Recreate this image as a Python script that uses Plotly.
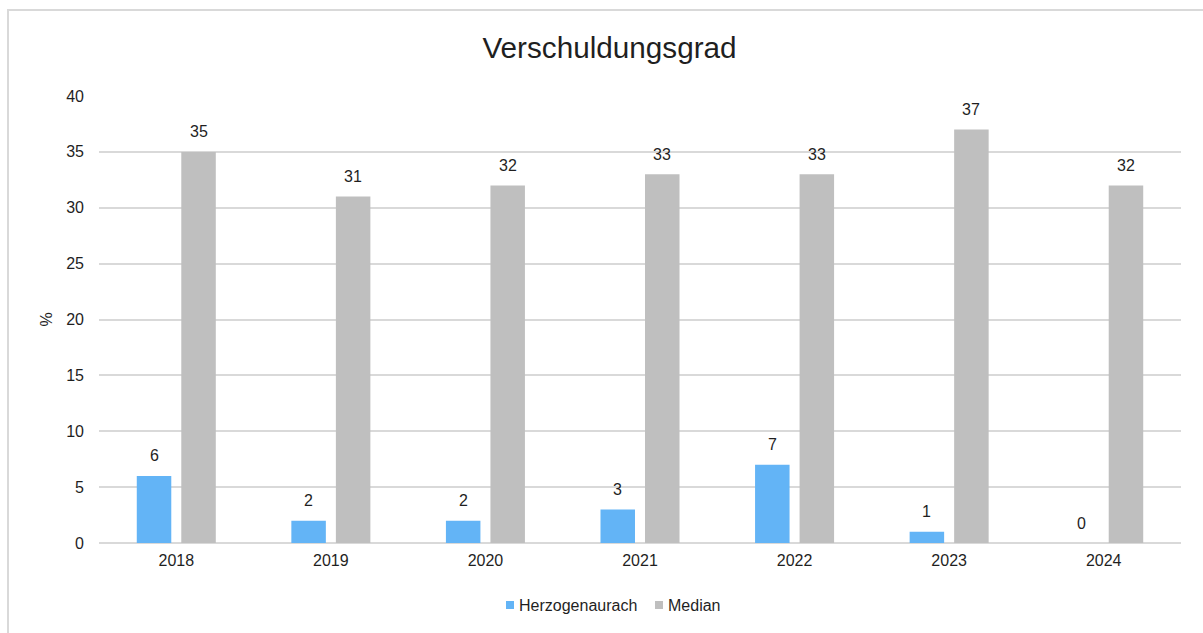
import plotly.graph_objects as go

years = ["2018", "2019", "2020", "2021", "2022", "2023", "2024"]
herzogenaurach = [6, 2, 2, 3, 7, 1, 0]
median = [35, 31, 32, 33, 33, 37, 32]

series_names = ["Herzogenaurach", "Median"]
series_colors = ["#63B4F6", "#BFBFBF"]

FONT = "Liberation Sans, Arial, sans-serif"
TEXT = "#1F1F1F"
GRID = "#D9D9D9"
SMALL = 16

# plot-area geometry in pixels, used to place the frame and legend in paper units
L, R, T, B = 99, 22, 96, 90
W, H = 1203, 633
PW, PH = W - L - R, H - T - B


def px_x(px):
    return (px - L) / PW


def px_y(py):
    return (H - B - py) / PH


fig = go.Figure()
for name, vals, color in zip(series_names, [herzogenaurach, median], series_colors):
    fig.add_trace(go.Bar(
        x=years, y=vals, name=name,
        marker=dict(color=color, line=dict(width=0)),
        hoverinfo="x+y+name", showlegend=False,
    ))

# value labels above each bar (left bar of each group shifted left, right bar shifted right)
half_slot = 22.25
for shift, vals in zip([-half_slot, half_slot], [herzogenaurach, median]):
    for i, v in enumerate(vals):
        fig.add_annotation(
            x=i, y=v, xref="x", yref="y",
            text=str(v), showarrow=False,
            xshift=shift, yshift=20, yanchor="middle",
            font=dict(family=FONT, size=SMALL, color=TEXT),
        )

# light frame around the chart
fig.add_shape(
    type="rect", xref="paper", yref="paper",
    x0=px_x(8), x1=px_x(1215), y0=px_y(650), y1=px_y(10),
    line=dict(color=GRID, width=2), fillcolor="rgba(0,0,0,0)", layer="below",
)

# legend: small colour square followed by the series name
legend_items = [(506, series_colors[0], series_names[0]), (655, series_colors[1], series_names[1])]
for x0, color, name in legend_items:
    fig.add_shape(
        type="rect", xref="paper", yref="paper",
        x0=px_x(x0), x1=px_x(x0 + 8), y0=px_y(609), y1=px_y(601),
        line=dict(width=0), fillcolor=color,
    )
    fig.add_annotation(
        x=px_x(x0 + 11), y=px_y(605), xref="paper", yref="paper",
        text=name, showarrow=False, xanchor="left", yanchor="middle",
        font=dict(family=FONT, size=SMALL, color=TEXT),
    )

fig.update_layout(
    width=W, height=H,
    margin=dict(l=L, r=R, t=T, b=B),
    paper_bgcolor="white", plot_bgcolor="white",
    font=dict(family=FONT, size=SMALL, color=TEXT),
    title=dict(
        text="Verschuldungsgrad", x=609.5 / W, xref="container", xanchor="center",
        y=1 - 48 / H, yanchor="middle",
        font=dict(family=FONT, size=29.7, color=TEXT),
    ),
    barmode="group", bargap=0.424, bargroupgap=0.225,
    showlegend=False,
    xaxis=dict(
        type="category", showgrid=False, showline=False, zeroline=False,
        ticks="", ticklabelstandoff=6,
        tickfont=dict(family=FONT, size=SMALL, color=TEXT),
    ),
    yaxis=dict(
        range=[0, 40], dtick=5, tick0=0,
        showgrid=True, gridcolor=GRID, gridwidth=1.5,
        zeroline=True, zerolinecolor=GRID, zerolinewidth=2,
        showline=False, ticks="", ticklabelstandoff=14,
        tickfont=dict(family=FONT, size=SMALL, color=TEXT),
        title=dict(text="%", standoff=9, font=dict(family=FONT, size=SMALL, color=TEXT)),
    ),
)

fig.write_html("out.html")
